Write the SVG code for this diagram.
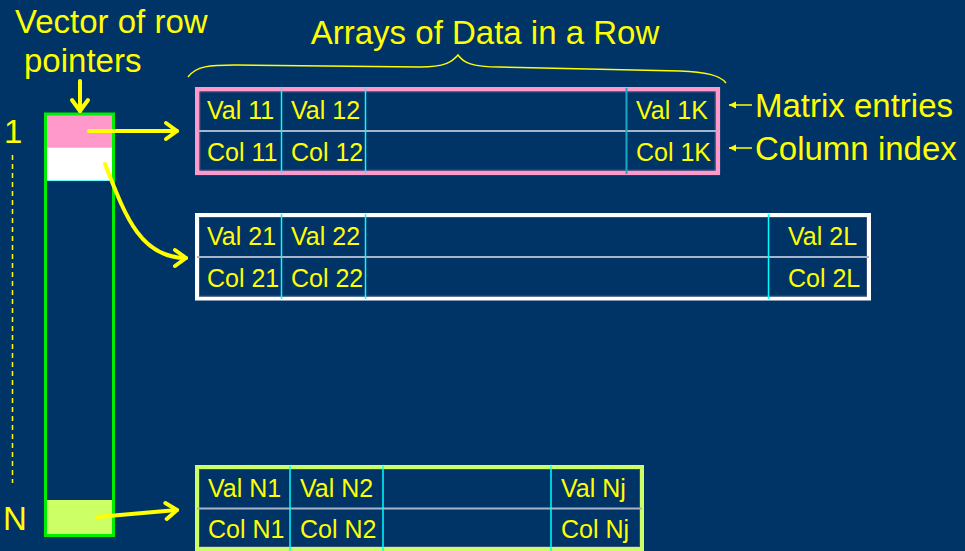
<svg xmlns="http://www.w3.org/2000/svg" width="965" height="551" viewBox="0 0 965 551">
<defs>
<style>
.big{font-family:"Liberation Sans",Arial,sans-serif;font-size:33px;fill:#FFFF00}
.cell{font-family:"Liberation Sans",Arial,sans-serif;font-size:25px;fill:#FFFF00}
.ptr{fill:none;stroke:#FFFF00;stroke-width:4;stroke-linecap:round}
.thin{fill:none;stroke:#FFFF00;stroke-width:1.5}
.mid{stroke:#A8B4C8;stroke-width:2}
.div{stroke:#00FFFF;stroke-width:1.5}
.divl{stroke:#1AA8C8;stroke-width:2}
.inner{fill:none;stroke:#3A4E74;stroke-width:1}
</style>
<marker id="chev" markerUnits="userSpaceOnUse" markerWidth="30" markerHeight="30" refX="0" refY="0" viewBox="-15 -15 30 30" orient="auto" overflow="visible">
<path d="M-11,-8 L0,0 L-11,8" fill="none" stroke="#FFFF00" stroke-width="4" stroke-linecap="round" stroke-linejoin="round"/>
</marker>
<marker id="small" markerUnits="userSpaceOnUse" markerWidth="12" markerHeight="12" refX="0" refY="0" viewBox="-10 -6 12 12" orient="auto" overflow="visible">
<path d="M-7,-3.5 L0,0 L-7,3.5 Z" fill="#FFFF00"/>
</marker>
</defs>
<rect x="0" y="0" width="965" height="551" fill="#003366"/>

<g id="title">
<text class="big" x="485" y="44" text-anchor="middle">Arrays of Data in a Row</text>
<path class="thin" d="M188,77 C196,66 210,65 235,65 L420,67 C445,67 452,62 458,55 C463,62 470,67 500,67 L680,71 C705,72 720,75 726,83"/>
</g>

<g id="vector-label">
<text class="big" x="15" y="33">Vector of row</text>
<text class="big" x="24" y="72">pointers</text>
</g>

<g id="index-labels">
<text class="big" x="4" y="143">1</text>
<text class="big" x="3" y="530">N</text>
<line x1="12.5" y1="155" x2="12.5" y2="483" stroke="#FFFF00" stroke-width="1.5" stroke-dasharray="5 4"/>
</g>

<g id="row-pointer-vector">
<rect x="46" y="114" width="67" height="33" fill="#FF99CC"/>
<rect x="46.5" y="147.5" width="66" height="33" fill="#FFFFFF" stroke="#66FFFF" stroke-width="1"/>
<rect x="46" y="500" width="67" height="35" fill="#CCFF66"/>
<rect x="45.5" y="114" width="68" height="421.5" fill="none" stroke="#00EE00" stroke-width="3"/>
</g>

<g id="row1">
<rect x="197.3" y="89.3" width="520.5" height="83.5" fill="none" stroke="#FF99CC" stroke-width="4.6"/>
<rect x="200" y="92" width="515" height="78" class="inner"/>
<line class="mid" x1="197" y1="131" x2="718" y2="131"/>
<line class="div" x1="281.5" y1="88" x2="281.5" y2="174"/>
<line class="div" x1="365.5" y1="88" x2="365.5" y2="174"/>
<line class="divl" x1="626.5" y1="88" x2="626.5" y2="174"/>
<text class="cell" x="207" y="119">Val 11</text>
<text class="cell" x="291" y="119">Val 12</text>
<text class="cell" x="636" y="119">Val 1K</text>
<text class="cell" x="207" y="161">Col 11</text>
<text class="cell" x="291" y="161">Col 12</text>
<text class="cell" x="636" y="161">Col 1K</text>
</g>

<g id="row1-legend">
<text class="big" x="755" y="117">Matrix entries</text>
<text class="big" x="755" y="160">Column index</text>
</g>

<g id="row2">
<rect x="197" y="215" width="672" height="83.5" fill="none" stroke="#FFFFFF" stroke-width="4"/>
<rect x="199.5" y="217.5" width="667" height="78.5" class="inner"/>
<line class="mid" x1="197" y1="257" x2="869" y2="257"/>
<line class="div" x1="281.5" y1="214" x2="281.5" y2="299"/>
<line class="div" x1="365.5" y1="214" x2="365.5" y2="299"/>
<line class="div" x1="768.5" y1="214" x2="768.5" y2="299"/>
<text class="cell" x="207" y="245">Val 21</text>
<text class="cell" x="291" y="245">Val 22</text>
<text class="cell" x="788" y="245">Val 2L</text>
<text class="cell" x="207" y="287">Col 21</text>
<text class="cell" x="291" y="287">Col 22</text>
<text class="cell" x="788" y="287">Col 2L</text>
</g>

<g id="rowN">
<rect x="197" y="467" width="445" height="82" fill="none" stroke="#CCFF66" stroke-width="4"/>
<rect x="199.5" y="469.5" width="440" height="77" class="inner"/>
<line class="mid" x1="197" y1="508.5" x2="642" y2="508.5"/>
<line class="div" x1="290" y1="466" x2="290" y2="551"/>
<line class="div" x1="383" y1="466" x2="383" y2="551"/>
<line class="div" x1="551" y1="466" x2="551" y2="551"/>
<text class="cell" x="208" y="497">Val N1</text>
<text class="cell" x="300" y="497">Val N2</text>
<text class="cell" x="561" y="497">Val Nj</text>
<text class="cell" x="208" y="538">Col N1</text>
<text class="cell" x="300" y="538">Col N2</text>
<text class="cell" x="561" y="538">Col Nj</text>
</g>

<g id="connectors">
<line class="ptr" x1="80" y1="81" x2="80" y2="111" marker-end="url(#chev)"/>
<line class="ptr" x1="89" y1="131" x2="177" y2="131" marker-end="url(#chev)"/>
<path class="ptr" d="M105,164 C125,215 140,258 186,258" marker-end="url(#chev)"/>
<line class="ptr" x1="97" y1="517" x2="177" y2="510" marker-end="url(#chev)"/>
<line class="thin" x1="752" y1="105" x2="729" y2="105" marker-end="url(#small)"/>
<line class="thin" x1="752" y1="148" x2="729" y2="148" marker-end="url(#small)"/>
</g>
</svg>
